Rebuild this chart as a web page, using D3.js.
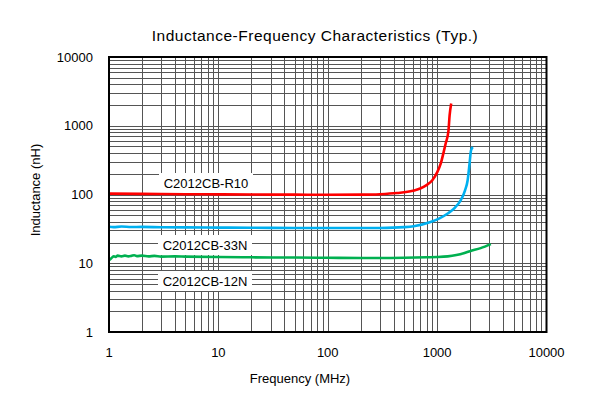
<!DOCTYPE html>
<html>
<head>
<meta charset="utf-8">
<script src="https://cdn.jsdelivr.net/npm/d3@7"></script>
<style>
  html, body { margin: 0; padding: 0; background: #fff; }
  svg { display: block; font-family: "Liberation Sans", Arial, sans-serif; }
</style>
</head>
<body>
<div id="chart"></div>
<script>
// 資料
const xTicks = [1, 10, 100, 1000, 10000];
const yTicks = [1, 10, 100, 1000, 10000];

const freqR10 = [1, 2, 5, 10, 20, 50, 100, 200, 300, 430, 600, 700, 800, 900, 1000, 1080, 1150, 1200, 1270, 1300, 1345];
const indR10  = [103, 102, 101, 100.5, 100, 99.5, 99, 99.5, 101, 105, 113, 122, 137, 160, 210, 283, 420, 560, 850, 1400, 2100];

const freq33N = [1, 1.1, 1.3, 1.6, 2, 3, 5, 10, 20, 50, 100, 200, 300, 500, 610, 870, 1050, 1250, 1450, 1640, 1800, 1900, 1980, 2040, 2120];
const ind33N  = [34, 33.5, 34.2, 33.6, 33.8, 33.4, 33.2, 33, 32.8, 32.6, 32.5, 32.5, 32.6, 33.5, 34.5, 39.8, 45, 53, 64, 82, 115, 160, 283, 437, 490];

const freq12N = [1, 1.05, 1.1, 1.15, 1.2, 1.3, 1.4, 1.5, 1.6, 1.7, 1.8, 2, 2.3, 2.6, 3, 4, 5, 10, 20, 50, 100, 200, 300, 500, 800, 1000, 1250, 1500, 1750, 2000, 2500, 3100];
const ind12N  = [11, 11.8, 12.6, 12.4, 12.9, 12.6, 12.9, 12.6, 12.8, 13.1, 12.7, 12.9, 12.6, 12.8, 12.5, 12.6, 12.5, 12.3, 12.2, 12.1, 12, 11.9, 11.9, 12, 12.2, 12.3, 12.6, 13.2, 14, 15, 16.6, 19];

const seriesNames = ["C2012CB-R10", "C2012CB-33N", "C2012CB-12N"];
const seriesColors = ["#ff0000", "#00b0f0", "#00b050"];

const W = 599, H = 398;
const plot = {left: 109, right: 546.5, top: 57, bottom: 332};

const svg = d3.select("#chart").append("svg")
    .attr("width", W).attr("height", H);

const x = d3.scaleLog().domain([1, 10000]).range([plot.left, plot.right]);
const y = d3.scaleLog().domain([1, 10000]).range([plot.bottom, plot.top]);

// 格線 (每十倍 1..9)
const minor = [];
for (let d = 1; d < 10000; d *= 10) {
    for (let k = 2; k <= 9; k++) minor.push(d * k);
}
const grid = svg.append("g").attr("stroke", "#555").attr("stroke-width", 1);
grid.selectAll("line.v")
    .data(minor.concat(xTicks.slice(1, -1)))
    .join("line")
    .attr("x1", d => Math.round(x(d)) + 0.5).attr("x2", d => Math.round(x(d)) + 0.5)
    .attr("y1", plot.top).attr("y2", plot.bottom);
grid.selectAll("line.h")
    .data(minor.concat(yTicks.slice(1, -1)))
    .join("line")
    .attr("class", "h")
    .attr("x1", plot.left).attr("x2", plot.right)
    .attr("y1", d => Math.round(y(d)) + 0.5).attr("y2", d => Math.round(y(d)) + 0.5);

// 標籤白底
const labels = [
    {name: seriesNames[0], cx: 206, cy: 183},
    {name: seriesNames[1], cx: 205, cy: 245},
    {name: seriesNames[2], cx: 205, cy: 281}
];
svg.append("g").selectAll("rect")
    .data(labels)
    .join("rect")
    .attr("x", d => d.cx - 47).attr("y", d => d.cy - 10)
    .attr("width", 94).attr("height", 20)
    .attr("fill", "#fff");

// 曲線
const line = d3.line().x(d => x(d[0])).y(d => y(d[1])).curve(d3.curveMonotoneX);
const series = [
    d3.zip(freqR10, indR10),
    d3.zip(freq33N, ind33N),
    d3.zip(freq12N, ind12N)
];
svg.append("g").selectAll("path")
    .data(series)
    .join("path")
    .attr("d", line)
    .attr("fill", "none")
    .attr("stroke", (d, i) => seriesColors[i])
    .attr("stroke-width", 2.6)
    .attr("stroke-linejoin", "round");

svg.append("g").selectAll("text")
    .data(labels)
    .join("text")
    .attr("x", d => d.cx).attr("y", d => d.cy + 5)
    .attr("text-anchor", "middle")
    .attr("font-size", 13)
    .attr("fill", "#000")
    .text(d => d.name);

// 外框
svg.append("rect")
    .attr("x", plot.left).attr("y", plot.top)
    .attr("width", plot.right - plot.left).attr("height", plot.bottom - plot.top)
    .attr("fill", "none").attr("stroke", "#000").attr("stroke-width", 2);

// 座標軸文字
svg.append("g").selectAll("text")
    .data(xTicks)
    .join("text")
    .attr("x", d => x(d)).attr("y", 357)
    .attr("text-anchor", "middle")
    .attr("font-size", 13)
    .text(d => d);

svg.append("g").selectAll("text")
    .data(yTicks)
    .join("text")
    .attr("x", 93).attr("y", d => y(d) + 4.5)
    .attr("text-anchor", "end")
    .attr("font-size", 13)
    .text(d => d);

svg.append("text")
    .attr("x", 315).attr("y", 41)
    .attr("text-anchor", "middle")
    .attr("font-size", 15.5)
    .attr("letter-spacing", 0.5)
    .text("Inductance-Frequency Characteristics (Typ.)");

svg.append("text")
    .attr("x", 300).attr("y", 383)
    .attr("text-anchor", "middle")
    .attr("font-size", 13)
    .text("Frequency (MHz)");

svg.append("text")
    .attr("transform", "translate(40,190) rotate(-90)")
    .attr("text-anchor", "middle")
    .attr("font-size", 13)
    .text("Inductance (nH)");
</script>
</body>
</html>
